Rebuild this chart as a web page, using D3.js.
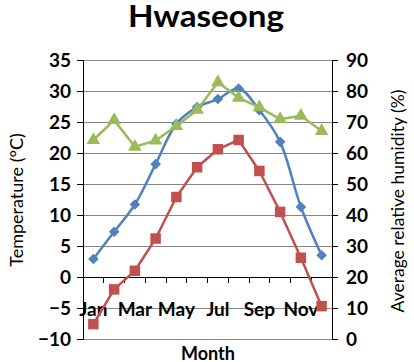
<!DOCTYPE html>
<html><head><meta charset="utf-8">
<script src="https://cdn.jsdelivr.net/npm/d3@7"></script>
<style>
body{margin:0;background:#fff;}
svg{display:block;}
text{font-family:Lato,"Open Sans",sans-serif;fill:#000;}
</style></head><body>
<svg id="c" width="414" height="362"></svg>
<script>
const months = ["Jan","Feb","Mar","Apr","May","Jun","Jul","Aug","Sep","Oct","Nov","Dec"];
const maxTemp = [2.9,7.3,11.7,18.2,24.7,27.4,28.7,30.4,26.9,21.8,11.3,3.5];
const minTemp = [-7.6,-2.0,1.0,6.2,12.9,17.7,20.6,22.1,17.1,10.5,3.1,-4.7];
const humidity = [64.2,70.6,62.0,64.0,68.7,73.9,82.8,77.8,74.7,70.9,72.0,67.1];
const tempTicks = [-10,-5,0,5,10,15,20,25,30,35];
const humTicks = [0,10,20,30,40,50,60,70,80,90];
const monthLabels = ["Jan","Mar","May","Jul","Sep","Nov"];

const svg = d3.select("#c");
const L=83, R=332, T=60, B=339;
const x = d3.scaleBand().domain(months).range([L,R]).padding(0);
const yT = d3.scaleLinear().domain([-10,35]).range([B,T]);
const yH = d3.scaleLinear().domain([0,90]).range([B,T]);
const cx = m => x(m)+x.bandwidth()/2;

// gridlines
svg.append("g").selectAll("line").data(tempTicks).join("line")
  .attr("x1",L).attr("x2",R).attr("y1",d=>yT(d)).attr("y2",d=>yT(d))
  .attr("stroke","#868686").attr("stroke-width",1).attr("shape-rendering","crispEdges");

// left axis
const la = svg.append("g").attr("transform",`translate(${L},0)`)
  .call(d3.axisLeft(yT).tickValues(tempTicks).tickSize(6).tickPadding(6).tickFormat(d3.format("d")));
la.select(".domain").attr("stroke","#000");
la.selectAll(".tick line").attr("stroke","#000");
la.selectAll("text").attr("font-size",19).attr("font-weight","bold").attr("font-family","Lato");

// right axis
const ra = svg.append("g").attr("transform",`translate(${R},0)`)
  .call(d3.axisRight(yH).tickValues(humTicks).tickSize(6).tickPadding(8).tickFormat(d3.format("d")));
ra.select(".domain").attr("stroke","#000");
ra.selectAll(".tick line").attr("stroke","#000");
ra.selectAll("text").attr("font-size",19).attr("font-weight","bold").attr("font-family","Lato");

// x axis at 0
const y0 = yT(0);
svg.append("line").attr("x1",L).attr("x2",R).attr("y1",y0).attr("y2",y0)
  .attr("stroke","#000").attr("shape-rendering","crispEdges");
const bounds = months.map(m=>x(m)).concat([R]);
svg.append("g").selectAll("line").data(bounds).join("line")
  .attr("x1",d=>d).attr("x2",d=>d).attr("y1",y0).attr("y2",y0+6)
  .attr("stroke","#000").attr("shape-rendering","crispEdges");
svg.append("g").selectAll("text").data(monthLabels).join("text")
  .attr("x",d=>cx(d)).attr("y",316).attr("text-anchor","middle")
  .attr("font-size",19).attr("font-weight","bold").text(d=>d);

// titles
svg.append("text").attr("x",206).attr("y",27).attr("text-anchor","middle")
  .attr("font-size",30).attr("font-weight","bold")
  .attr("textLength",156).attr("lengthAdjust","spacingAndGlyphs").text("Hwaseong");
svg.append("text").attr("x",208).attr("y",360).attr("text-anchor","middle")
  .attr("font-size",18).attr("font-weight","bold").text("Month");
svg.append("text").attr("transform","translate(23,200) rotate(-90)").attr("text-anchor","middle")
  .attr("font-size",18).text("Temperature (°C)");
svg.append("text").attr("transform","translate(404,201) rotate(-90)").attr("text-anchor","middle")
  .attr("font-family","Liberation Sans, Arial, sans-serif")
  .attr("font-size",17.5).text("Average relative humidity (%)");

// series
const blue="#4F81BD", red="#C0504D", green="#9BBB59";
function series(vals, scale, color, curve, marker){
  const pts = vals.map((v,i)=>[cx(months[i]), scale(v)]);
  svg.append("path").attr("d", d3.line().curve(curve)(pts))
    .attr("fill","none").attr("stroke",color).attr("stroke-width",2.5).attr("stroke-linejoin","round");
  svg.append("g").selectAll("path").data(pts).join("path")
    .attr("transform",d=>`translate(${d[0]},${d[1]})`)
    .attr("d",marker).attr("fill",color);
}
series(maxTemp, yT, blue, d3.curveCatmullRom, d3.symbol(d3.symbolDiamond2, 72)());
series(minTemp, yT, red, d3.curveLinear, d3.symbol(d3.symbolSquare, 110)());
series(humidity, yH, green, d3.curveLinear, d3.symbol(d3.symbolTriangle, 80)());
</script>
</body></html>
